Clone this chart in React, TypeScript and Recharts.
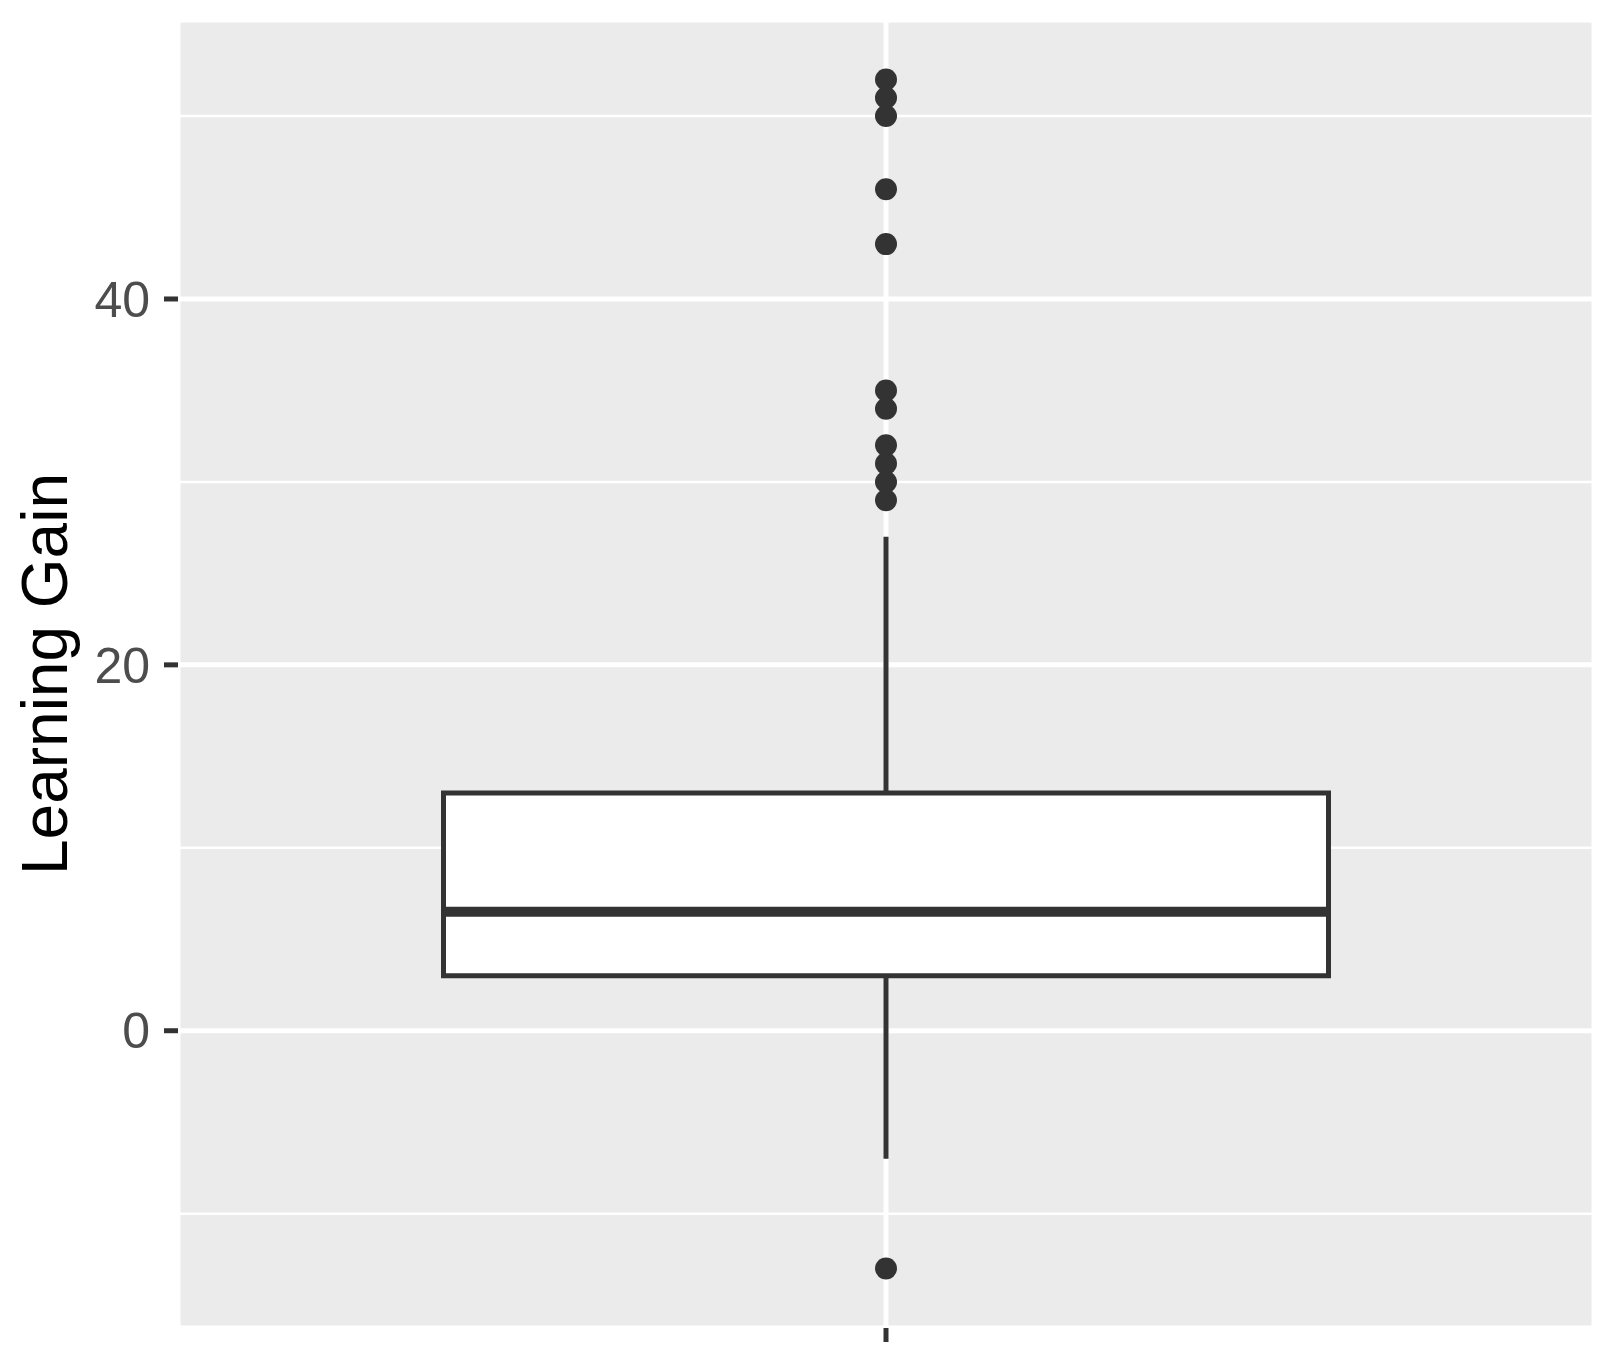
import {
  ComposedChart,
  Scatter,
  XAxis,
  YAxis,
  CartesianGrid,
  ReferenceArea,
  ReferenceLine,
} from 'recharts';

// Box plot summary
const quartiles = [3, 6.5, 13]; // Q1, median, Q3
const whiskers = [-7, 27]; // lower, upper
const outliers = [52, 51, 50, 46, 43, 35, 34, 32, 31, 30, 29, -13];

const yTicks = [0, 20, 40];
const yMinorTicks = [-10, 10, 30, 50];
const xTicks = [1];

const BOX_CENTER = 1;
const BOX_WIDTH = 0.75;
const INK = '#333333';
const FONT = '"Liberation Sans", Arial, sans-serif';

const allValues = [...outliers, ...whiskers];
const lo = Math.min(...allValues);
const hi = Math.max(...allValues);
const pad = (hi - lo) * 0.05;
const yDomain = [lo - pad, hi + pad];

const outlierData = outliers.map((v) => ({ x: BOX_CENTER, y: v }));

const boxLeft = BOX_CENTER - BOX_WIDTH / 2;
const boxRight = BOX_CENTER + BOX_WIDTH / 2;

const YTitle = (props: any) => {
  const vb = props.viewBox || {};
  const cy = (vb.y || 0) + (vb.height || 0) / 2;
  const x = 67;
  return (
    <text
      x={x}
      y={cy}
      transform={`rotate(-90, ${x}, ${cy})`}
      textAnchor="middle"
      fontSize={64}
      fontFamily={FONT}
      fill="#000000"
    >
      Learning Gain
    </text>
  );
};

const App = () => {
  return (
    <div style={{ position: 'absolute', left: 0, top: 0 }}>
      <ComposedChart
        width={1610}
        height={1362}
        margin={{ top: 20, right: 16, bottom: 0, left: 0 }}
      >
        <CartesianGrid fill="#EBEBEB" stroke="#FFFFFF" strokeWidth={5} />
        <CartesianGrid
          vertical={false}
          horizontalValues={yMinorTicks}
          stroke="#FFFFFF"
          strokeWidth={2.5}
        />
        <XAxis
          type="number"
          dataKey="x"
          domain={[0.4, 1.6]}
          ticks={xTicks}
          tickFormatter={() => ''}
          axisLine={false}
          tickLine={{ stroke: INK, strokeWidth: 5 }}
          tickSize={14}
          height={34}
        />
        <YAxis
          type="number"
          dataKey="y"
          domain={yDomain}
          ticks={yTicks}
          allowDataOverflow
          axisLine={false}
          tickLine={{ stroke: INK, strokeWidth: 5 }}
          tickSize={14}
          tickMargin={14}
          width={178}
          tick={{ fill: '#4D4D4D', fontSize: 50, fontFamily: FONT }}
          label={{ content: YTitle }}
        />
        <ReferenceLine
          segment={[
            { x: BOX_CENTER, y: quartiles[2] },
            { x: BOX_CENTER, y: whiskers[1] },
          ]}
          stroke={INK}
          strokeWidth={5}
        />
        <ReferenceLine
          segment={[
            { x: BOX_CENTER, y: whiskers[0] },
            { x: BOX_CENTER, y: quartiles[0] },
          ]}
          stroke={INK}
          strokeWidth={5}
        />
        <ReferenceArea
          x1={boxLeft}
          x2={boxRight}
          y1={quartiles[0]}
          y2={quartiles[2]}
          fill="#FFFFFF"
          fillOpacity={1}
          stroke={INK}
          strokeWidth={5}
        />
        <ReferenceLine
          segment={[
            { x: boxLeft, y: quartiles[1] },
            { x: boxRight, y: quartiles[1] },
          ]}
          stroke={INK}
          strokeWidth={10}
        />
        <Scatter
          data={outlierData}
          isAnimationActive={false}
          shape={(p: any) => <circle cx={p.cx} cy={p.cy} r={11} fill={INK} />}
        />
      </ComposedChart>
    </div>
  );
};

export default App;
